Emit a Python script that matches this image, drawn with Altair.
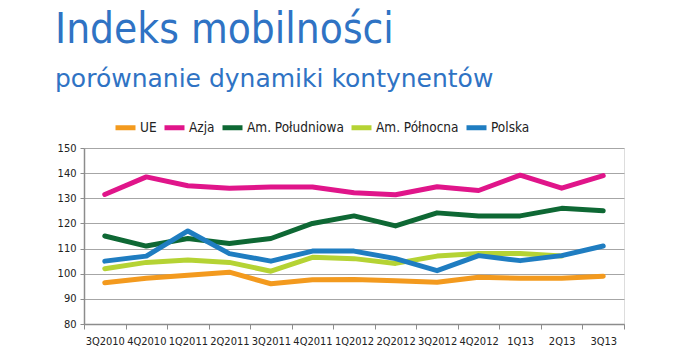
import altair as alt
import pandas as pd

quarters = ["3Q2010", "4Q2010", "1Q2011", "2Q2011", "3Q2011", "4Q2011", "1Q2012",
            "2Q2012", "3Q2012", "4Q2012", "1Q13", "2Q13", "3Q13"]
series_names = ["UE", "Azja", "Am. Południowa", "Am. Północna", "Polska"]
colors = ["#F39A1E", "#E0158A", "#0E6834", "#B5D334", "#1F7DC1"]

ue = [96.4, 98.2, 99.4, 100.6, 96.0, 97.6, 97.7, 97.2, 96.6, 98.6, 98.2, 98.2, 99.0]
azja = [131.5, 138.5, 135.0, 134.0, 134.5, 134.5, 132.2, 131.4, 134.6, 133.1, 139.2, 134.0, 139.0]
am_pld = [115.0, 111.0, 114.0, 112.0, 114.0, 120.0, 123.0, 119.0, 124.2, 123.0, 123.0, 126.0, 125.0]
am_pln = [102.0, 104.5, 105.5, 104.5, 101.0, 106.5, 106.0, 104.1, 107.0, 108.0, 108.0, 107.0, None]
polska = [105.0, 107.0, 117.0, 108.0, 105.0, 109.0, 109.0, 106.0, 101.2, 107.2, 105.2, 107.2, 111.0]

title_text = "Indeks mobilności"
subtitle_text = "porównanie dynamiki kontynentów"

FONT = "DejaVu Sans Condensed, DejaVu Sans"

rows = []
for name, vals in zip(series_names, [ue, azja, am_pld, am_pln, polska]):
    for i, (q, v) in enumerate(zip(quarters, vals)):
        if v is not None:
            rows.append({"kwartal": q, "seria": name, "wartosc": v,
                         "kolejnosc": series_names.index(name)})
df = pd.DataFrame(rows)

W, H = 540, 176

lines = alt.Chart(df).mark_line(strokeWidth=5, strokeCap="round", strokeJoin="round").encode(
    x=alt.X("kwartal:N", sort=quarters, bandPosition=0.5,
            scale=alt.Scale(type="band", paddingInner=0, paddingOuter=0),
            axis=alt.Axis(title=None, labelAngle=0, tickBand="extent", grid=False,
                          domainColor="#8C8C8C", domainWidth=1.5, tickColor="#8C8C8C",
                          tickSize=5, labelFont=FONT, labelFontSize=11, labelColor="#222222",
                          labelPadding=6)),
    y=alt.Y("wartosc:Q", scale=alt.Scale(domain=[80, 150], nice=False, zero=False),
            axis=alt.Axis(title=None, values=list(range(80, 151, 10)), grid=True,
                          gridColor="#A6A6A6", gridWidth=1.2, domainColor="#8C8C8C",
                          domainWidth=1.5, tickColor="#8C8C8C", tickSize=4,
                          labelFont=FONT, labelFontSize=11, labelColor="#222222",
                          labelPadding=4)),
    color=alt.Color("seria:N", sort=series_names,
                    scale=alt.Scale(domain=series_names, range=colors),
                    legend=alt.Legend(title=None, orient="none", direction="horizontal",
                                      legendX=29, legendY=-33, symbolType="stroke",
                                      symbolStrokeWidth=5, symbolSize=400,
                                      labelFont=FONT, labelFontSize=13.5, labelColor="#222222",
                                      labelOffset=2, columnPadding=-3)),
    detail="seria:N",
    order=alt.Order("kolejnosc:Q"),
)

title_mark = alt.Chart(pd.DataFrame({"t": [title_text]})).mark_text(
    font=FONT, fontSize=42, color="#2F73C4", align="left", baseline="alphabetic").encode(
    text="t:N", x=alt.value(-29), y=alt.value(43 - 148))

subtitle_mark = alt.Chart(pd.DataFrame({"t": [subtitle_text]})).mark_text(
    font="DejaVu Sans", fontSize=25, color="#2F73C4", align="left", baseline="alphabetic").encode(
    text="t:N", x=alt.value(-29), y=alt.value(87 - 148))

chart = alt.layer(lines, title_mark, subtitle_mark).properties(
    width=W, height=H,
    autosize=alt.AutoSizeParams(type="none"),
    padding={"left": 84, "top": 148, "right": 53, "bottom": 31},
).configure_view(stroke=None).configure(background="white")

chart.save("out.html", embed_options={"renderer": "svg", "actions": False})
